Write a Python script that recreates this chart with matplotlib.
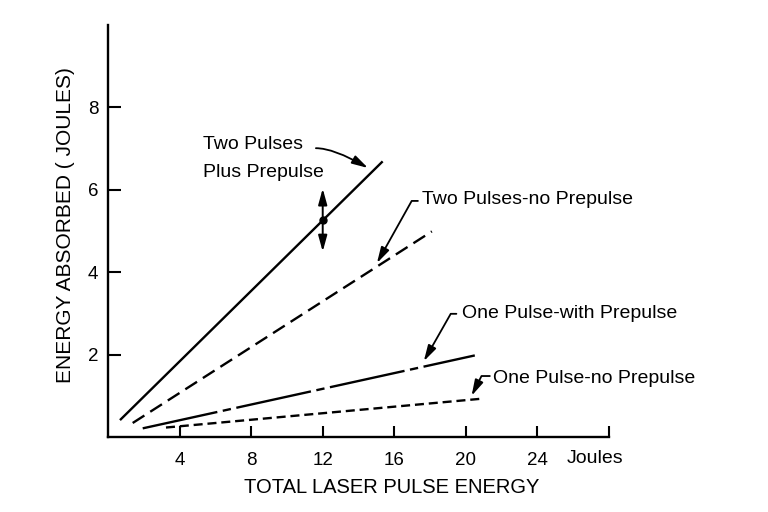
import matplotlib
matplotlib.use("Agg")
import matplotlib.pyplot as plt
import matplotlib.transforms as mtransforms

plt.rcParams['font.family'] = ['Liberation Sans', 'DejaVu Sans']
plt.rcParams['lines.scale_dashes'] = False

# ---- data ----
two_pp_x = [0.67, 15.35]          # Two Pulses Plus Prepulse (solid)
two_pp_y = [0.41, 6.69]
two_np_x = [1.38, 18.1]           # Two Pulses - no Prepulse (dashed)
two_np_y = [0.34, 4.99]
one_wp_x = [1.94, 20.5]           # One Pulse - with Prepulse (long-short dash)
one_wp_y = [0.21, 1.98]
one_np_x = [3.24, 20.9]           # One Pulse - no Prepulse (short dash)
one_np_y = [0.23, 0.93]

err_x = [12.0]                    # single measured point with error bar
err_y = [5.26]
err_lo = [0.76]
err_hi = [0.77]

x_ticks = [4, 8, 12, 16, 20, 24, 28]
x_ticklabels = ['4', '8', '12', '16', '20', '24', '']
y_ticks = [2, 4, 6, 8]
y_ticklabels = ['2', '4', '6', '8']

# ---- figure ----
fig = plt.figure(figsize=(7.68, 5.12), dpi=100)
ax = fig.add_axes([108 / 768, 75 / 512, 501 / 768, 412 / 512])
ax.set_xlim(0, 28)
ax.set_ylim(0, 10)

for s in ['top', 'right']:
    ax.spines[s].set_visible(False)
for s in ['left', 'bottom']:
    ax.spines[s].set_linewidth(1.7)
    ax.spines[s].set_color('black')

lw = 1.7
ax.plot(two_pp_x, two_pp_y, color='black', lw=lw, solid_capstyle='butt')
ax.plot(two_np_x, two_np_y, color='black', lw=lw, linestyle=(0, (10, 5)))
ax.plot(one_wp_x, one_wp_y, color='black', lw=lw, linestyle=(0, (55, 4, 6, 4)))
ax.plot(one_np_x, one_np_y, color='black', lw=lw, linestyle=(0, (6.5, 3.5)))

# error bar with arrowheads
ebar_head = '-|>,head_length=0.8,head_width=0.22'
for x, y, lo, hi in zip(err_x, err_y, err_lo, err_hi):
    ax.annotate('', xy=(x, y + hi), xytext=(x, y),
                arrowprops=dict(arrowstyle=ebar_head, color='black', lw=1.4,
                                shrinkA=0, shrinkB=0, mutation_scale=12))
    ax.annotate('', xy=(x, y - lo), xytext=(x, y),
                arrowprops=dict(arrowstyle=ebar_head, color='black', lw=1.4,
                                shrinkA=0, shrinkB=0, mutation_scale=12))
ax.plot(err_x, err_y, 'o', color='black', markersize=5)

ax.set_xticks(x_ticks)
ax.set_xticklabels(x_ticklabels)
ax.set_yticks(y_ticks)
ax.set_yticklabels(y_ticklabels)
ax.tick_params(axis='x', direction='in', length=8, width=1.5, pad=11, labelsize=13.5)
ax.tick_params(axis='y', direction='in', length=9, width=1.5, pad=7, labelsize=13.5)

trans = mtransforms.blended_transform_factory(ax.transData, ax.transAxes)
ax.text(27.2, -0.051, 'Joules', transform=trans, ha='center', va='center', fontsize=14)

ax.set_xlabel('TOTAL LASER PULSE ENERGY', fontsize=14.5)
ax.xaxis.set_label_coords(0.567, -0.0995)
ax.xaxis.label.set_va('top')
ax.set_ylabel('ENERGY ABSORBED ( JOULES)', fontsize=15)
ax.yaxis.set_label_coords(-0.0858, 0.5146)
ax.yaxis.label.set_va('center')

ann_fs = 14
head = '-|>,head_length=0.8,head_width=0.22'

# Two Pulses Plus Prepulse
ax.text(5.32, 7.09, 'Two Pulses', ha='left', va='center', fontsize=ann_fs)
ax.text(5.32, 6.41, 'Plus Prepulse', ha='left', va='center', fontsize=ann_fs)
ax.annotate('', xy=(14.53, 6.53), xytext=(11.62, 7.01),
            arrowprops=dict(arrowstyle=head, color='black', lw=1.3, shrinkA=0, shrinkB=0,
                            mutation_scale=12, connectionstyle='angle3,angleA=0,angleB=-30'))

# Two Pulses-no Prepulse
ax.text(17.53, 5.76, 'Two Pulses-no Prepulse', ha='left', va='center', fontsize=ann_fs)
ax.annotate('', xy=(15.03, 4.22), xytext=(17.32, 5.73),
            arrowprops=dict(arrowstyle=head, color='black', lw=1.3, shrinkA=0, shrinkB=0,
                            mutation_scale=12, connectionstyle='angle,angleA=0,angleB=60.8,rad=0'))

# One Pulse-with Prepulse
ax.text(19.79, 2.99, 'One Pulse-with Prepulse', ha='left', va='center', fontsize=ann_fs)
ax.annotate('', xy=(17.65, 1.84), xytext=(19.47, 2.99),
            arrowprops=dict(arrowstyle=head, color='black', lw=1.3, shrinkA=0, shrinkB=0,
                            mutation_scale=12, connectionstyle='angle,angleA=0,angleB=60.4,rad=0'))

# One Pulse-no Prepulse
ax.text(21.53, 1.43, 'One Pulse-no Prepulse', ha='left', va='center', fontsize=ann_fs)
ax.annotate('', xy=(20.32, 1.0), xytext=(21.34, 1.48),
            arrowprops=dict(arrowstyle=head, color='black', lw=1.3, shrinkA=0, shrinkB=0,
                            mutation_scale=12, connectionstyle='angle,angleA=0,angleB=63.4,rad=0'))

fig.savefig('out.png', dpi=100, facecolor='white')
